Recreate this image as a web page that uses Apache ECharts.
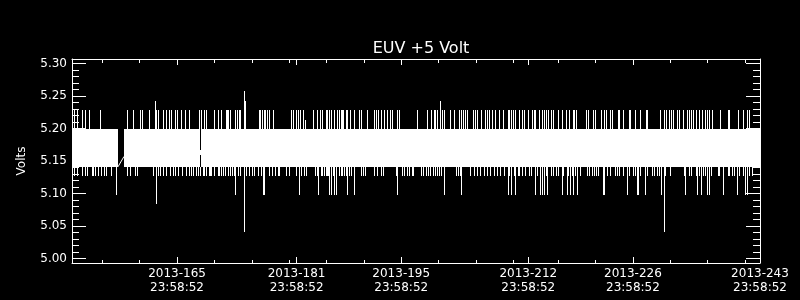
<!DOCTYPE html>
<html>
<head>
<meta charset="utf-8">
<script src="https://cdn.jsdelivr.net/npm/echarts@6/dist/echarts.min.js"></script>
<style>
html,body{margin:0;padding:0;background:#000;}
#chart{width:800px;height:300px;}
</style>
</head>
<body>
<div id="chart"></div>
<script>
// ---- Data (day of year 2013, volts) ----
const chartTitle = 'EUV +5 Volt';
const yName = 'Volts';
const xTickDays = [165, 181, 195, 212, 226, 243];
const xTickLabels = ['2013-165\n23:58:52', '2013-181\n23:58:52', '2013-195\n23:58:52', '2013-212\n23:58:52', '2013-226\n23:58:52', '2013-243\n23:58:52'];
const xMinorDays = [155, 160, 170, 175, 180, 185, 190, 200, 205, 210, 216, 221, 231, 236, 241];
const yTickValues = [5.00, 5.05, 5.10, 5.15, 5.20, 5.25, 5.30];
const yTickLabels = ['5.00', '5.05', '5.10', '5.15', '5.20', '5.25', '5.30'];
const yMinorValues = [5.01, 5.02, 5.03, 5.04, 5.06, 5.07, 5.08, 5.09, 5.11, 5.12, 5.13, 5.14, 5.16, 5.17, 5.18, 5.19, 5.21, 5.22, 5.23, 5.24, 5.26, 5.27, 5.28, 5.29];

// Dense oscillation envelope: [startDay, endDay, low, high]
const bandLow = 5.141;
const bandHigh = 5.199;
const bandSegments = [
  [150.95, 157.10, bandLow, bandHigh],
  [157.91, 168.07, bandLow, bandHigh],
  [168.20, 243.00, bandLow, bandHigh]
];
// Line pieces joining across data gaps: [day1, v1, day2, v2]
const gapLinks = [
  [157.10, 5.141, 157.91, 5.157],
  [168.13, 5.167, 168.13, 5.159]
];

// Excursions above the band to 5.229 V
const upLevel = 5.229;
const upDays = [151.31, 151.62, 152.25, 152.69, 153.22, 154.70, 158.40, 159.16, 160.05, 160.37, 161.25, 162.15, 162.28, 162.42, 163.18, 163.49, 163.93, 164.19, 164.73, 165.09, 165.53, 166.07, 166.60, 167.94, 168.26, 168.70, 168.93, 170.04, 170.48, 170.94, 171.61, 171.72, 171.82, 172.05, 172.85, 173.08, 173.29, 173.48, 175.97, 176.19, 176.42, 176.60, 176.86, 177.04, 177.40, 177.84, 180.30, 180.61, 180.88, 181.18, 181.51, 181.85, 183.28, 183.73, 184.18, 184.49, 184.93, 185.16, 185.39, 185.69, 186.05, 186.40, 186.72, 186.94, 187.16, 187.30, 187.61, 187.83, 188.19, 188.73, 189.40, 189.61, 190.42, 191.41, 191.62, 191.94, 192.29, 192.74, 193.18, 193.55, 193.85, 194.43, 194.75, 197.10, 198.44, 199.07, 199.38, 199.61, 199.83, 200.50, 200.72, 201.61, 202.05, 202.72, 203.08, 203.31, 203.53, 203.85, 204.60, 204.86, 205.13, 205.76, 206.20, 206.56, 206.83, 207.19, 207.63, 208.17, 208.61, 209.28, 209.51, 209.73, 209.95, 210.31, 210.75, 211.20, 211.47, 212.01, 212.54, 212.76, 212.98, 213.43, 213.88, 214.09, 214.42, 214.72, 215.03, 215.30, 216.06, 216.50, 217.09, 217.53, 217.97, 218.16, 218.38, 219.77, 220.07, 220.65, 220.97, 221.72, 222.17, 222.44, 222.98, 223.19, 224.05, 224.22, 224.76, 225.52, 225.69, 226.32, 226.99, 227.74, 227.97, 229.67, 230.24, 230.47, 230.91, 231.14, 231.35, 231.89, 232.25, 232.69, 233.23, 233.49, 233.81, 234.12, 234.48, 234.83, 235.23, 235.73, 235.95, 236.17, 236.62, 237.69, 238.71, 238.94, 240.14, 240.72, 241.25, 241.61];
// Excursions below the band to 5.127 V
const downLevel = 5.127;
const downDays = [151.27, 151.71, 152.25, 152.69, 153.05, 153.68, 153.85, 154.03, 154.39, 154.83, 155.28, 155.59, 156.17, 158.27, 158.71, 159.38, 159.74, 161.84, 162.42, 162.72, 163.18, 163.62, 164.06, 164.52, 164.82, 165.18, 165.63, 166.29, 166.60, 166.92, 167.23, 167.59, 167.81, 168.13, 168.48, 168.70, 168.93, 169.28, 169.47, 169.64, 170.04, 170.48, 170.71, 170.94, 171.24, 171.51, 171.82, 172.05, 172.41, 172.62, 173.16, 173.39, 174.28, 174.72, 175.08, 175.39, 175.83, 176.29, 177.40, 177.76, 178.07, 178.51, 178.64, 179.63, 180.07, 180.88, 181.64, 182.08, 182.31, 183.46, 183.73, 184.26, 184.49, 184.72, 184.93, 185.06, 185.25, 185.83, 186.72, 186.94, 187.16, 187.39, 187.70, 188.06, 188.27, 189.71, 189.97, 190.15, 191.41, 191.85, 192.29, 192.65, 194.30, 195.19, 195.42, 195.86, 196.09, 196.40, 196.66, 197.64, 198.00, 198.31, 198.63, 198.94, 199.24, 199.51, 199.83, 200.05, 200.37, 202.38, 202.64, 202.91, 204.29, 204.73, 205.18, 205.63, 206.07, 206.52, 206.96, 207.41, 207.86, 208.30, 208.74, 209.51, 210.08, 210.67, 210.84, 211.20, 211.65, 212.09, 212.45, 213.21, 214.42, 215.03, 215.39, 215.75, 215.97, 216.73, 217.40, 217.84, 218.30, 218.96, 219.85, 220.21, 220.52, 220.84, 221.10, 221.41, 222.52, 222.98, 223.65, 223.95, 224.22, 224.66, 225.56, 226.00, 226.32, 226.99, 227.87, 228.60, 228.90, 229.21, 229.48, 230.38, 231.00, 232.92, 233.49, 233.76, 234.48, 234.92, 235.46, 235.73, 236.49, 237.37, 237.60, 238.71, 238.94, 239.30, 239.61, 240.28, 240.72, 241.61, 241.97];
// Deeper excursions to 5.098 V
const deepLevel = 5.098;
const deepDays = [156.80, 172.85, 176.50, 176.73, 181.41, 183.95, 185.39, 185.60, 186.05, 186.27, 187.83, 188.64, 194.52, 200.72, 203.08, 209.33, 209.77, 210.31, 212.89, 213.65, 213.88, 214.19, 214.59, 216.50, 217.17, 217.63, 218.07, 218.51, 221.99, 222.21, 225.29, 226.54, 226.76, 227.66, 229.84, 233.05, 234.62, 235.15, 235.90, 236.26, 238.13, 239.91, 241.08, 241.25];
// Isolated extremes: [day, volts]
const extremeHigh = [[162.05, 5.242], [173.96, 5.258], [174.09, 5.242], [182.12, 5.213], [200.18, 5.242]];
const extremeLow = [[162.15, 5.084], [173.96, 5.041], [230.15, 5.041]];

// ---- Build spike items [day, from, to] ----
const spikeItems = [];
upDays.forEach(d => spikeItems.push([d, bandHigh, upLevel]));
extremeHigh.forEach(p => spikeItems.push([p[0], bandHigh, p[1]]));
downDays.forEach(d => spikeItems.push([d, bandLow, downLevel]));
deepDays.forEach(d => spikeItems.push([d, bandLow, deepLevel]));
extremeLow.forEach(p => spikeItems.push([p[0], bandLow, p[1]]));

const FONT = 'DejaVu Sans';
const WHITE = '#ffffff';
const X_MIN = 150.95, X_MAX = 243.0;
const Y_MIN = 4.99308, Y_MAX = 5.30692;

function xAxisDef(pos, vals, len, showLine, showLabel) {
  return {
    type: 'value', position: pos, min: X_MIN, max: X_MAX,
    axisLine: { show: showLine, onZero: false, lineStyle: { color: WHITE, width: 1 } },
    axisTick: { show: true, inside: true, length: len, customValues: vals, lineStyle: { color: WHITE, width: 1 } },
    axisLabel: showLabel ? {
      show: true, customValues: vals, color: WHITE, fontFamily: FONT, fontSize: 12,
      lineHeight: 14, margin: 4,
      formatter: v => { const i = xTickDays.findIndex(t => Math.abs(t - v) < 1e-6); return i >= 0 ? xTickLabels[i] : ''; }
    } : { show: false },
    splitLine: { show: false }
  };
}
function yAxisDef(pos, vals, len, showLine, showLabel) {
  const a = {
    type: 'value', position: pos, min: Y_MIN, max: Y_MAX,
    axisLine: { show: showLine, onZero: false, lineStyle: { color: WHITE, width: 1 } },
    axisTick: { show: true, inside: true, length: len, customValues: vals, lineStyle: { color: WHITE, width: 1 } },
    axisLabel: showLabel ? {
      show: true, customValues: vals, color: WHITE, fontFamily: FONT, fontSize: 12, margin: 5,
      formatter: v => { const i = yTickValues.findIndex(t => Math.abs(t - v) < 1e-6); return i >= 0 ? yTickLabels[i] : ''; }
    } : { show: false },
    splitLine: { show: false }
  };
  if (showLabel) {
    a.name = yName; a.nameLocation = 'middle'; a.nameRotate = 90; a.nameGap = 44;
    a.nameTextStyle = { color: WHITE, fontFamily: FONT, fontSize: 12, padding: [0, 0, 0, 0] };
  }
  return a;
}

const chart = echarts.init(document.getElementById('chart'), null, { renderer: 'canvas' });
chart.setOption({
  backgroundColor: '#000000',
  animation: false,
  title: {
    text: chartTitle, left: 416, top: 36, textAlign: 'center',
    textStyle: { color: WHITE, fontFamily: FONT, fontSize: 16, fontWeight: 'normal' }
  },
  grid: { left: 72, right: 40, top: 59, bottom: 37, containLabel: false },
  xAxis: [
    xAxisDef('bottom', xTickDays, 6, true, true),
    xAxisDef('bottom', xMinorDays, 3, false, false),
    xAxisDef('top', xTickDays, 6, true, false),
    xAxisDef('top', xMinorDays, 4, false, false)
  ],
  yAxis: [
    yAxisDef('left', yTickValues, 14, true, true),
    yAxisDef('left', yMinorValues, 7, false, false),
    yAxisDef('right', yTickValues, 14, true, false),
    yAxisDef('right', yMinorValues, 7, false, false)
  ],
  series: [
    {
      type: 'custom', name: 'band', xAxisIndex: 0, yAxisIndex: 0, clip: true,
      data: bandSegments, dimensions: ['start', 'end', 'low', 'high'],
      encode: { x: [0, 1], y: [2, 3] },
      renderItem: function (params, api) {
        const p0 = api.coord([api.value(0), api.value(3)]);
        const p1 = api.coord([api.value(1), api.value(2)]);
        const x0 = Math.round(p0[0]), x1 = Math.round(p1[0]);
        const y0 = Math.round(p0[1]), y1 = Math.round(p1[1]);
        return { type: 'rect', shape: { x: x0, y: y0, width: x1 - x0, height: y1 - y0 }, style: { fill: WHITE } };
      }
    },
    {
      type: 'custom', name: 'spikes', xAxisIndex: 0, yAxisIndex: 0, clip: true,
      data: spikeItems, dimensions: ['day', 'from', 'to'],
      encode: { x: 0, y: [1, 2] },
      renderItem: function (params, api) {
        const a = api.coord([api.value(0), api.value(1)]);
        const b = api.coord([api.value(0), api.value(2)]);
        const x = Math.floor(a[0] + 0.3);
        const y0 = Math.round(Math.min(a[1], b[1])), y1 = Math.round(Math.max(a[1], b[1]));
        return { type: 'rect', shape: { x: x, y: y0, width: 1, height: y1 - y0 }, style: { fill: WHITE } };
      }
    },
    {
      type: 'custom', name: 'links', xAxisIndex: 0, yAxisIndex: 0, clip: true,
      data: gapLinks, dimensions: ['d1', 'v1', 'd2', 'v2'],
      encode: { x: [0, 2], y: [1, 3] },
      renderItem: function (params, api) {
        const a = api.coord([api.value(0), api.value(1)]);
        const b = api.coord([api.value(2), api.value(3)]);
        if (Math.abs(a[0] - b[0]) < 1) {
          const x = Math.floor(a[0] + 0.3);
          const y0 = Math.round(Math.min(a[1], b[1])), y1 = Math.round(Math.max(a[1], b[1]));
          return { type: 'rect', shape: { x: x, y: y0, width: 1, height: y1 - y0 }, style: { fill: WHITE } };
        }
        return { type: 'line', shape: { x1: a[0], y1: a[1], x2: b[0], y2: b[1] }, style: { stroke: WHITE, lineWidth: 1 } };
      }
    }
  ]
});
</script>
</body>
</html>
